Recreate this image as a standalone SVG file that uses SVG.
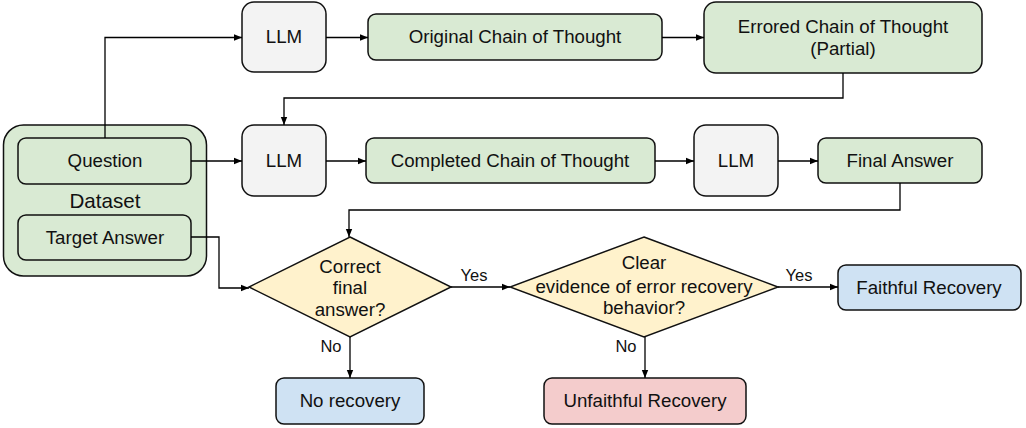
<svg xmlns="http://www.w3.org/2000/svg" width="1026" height="428" viewBox="0 0 1026 428">
<style>
text{font-family:"Liberation Sans",Arial,sans-serif;font-size:18.7px;fill:#111;text-anchor:middle}
.lbl{font-size:16.5px}
.big{font-size:20.6px}
.box{stroke:#111;stroke-width:1.5}
.g{fill:#d9ead3}.gr{fill:#f3f3f3}.y{fill:#fff2cc}.b{fill:#cfe2f3}.r{fill:#f4cccc}
.c{fill:none;stroke:#000;stroke-width:1.3}
</style>
<defs>
<marker id="ah" viewBox="0 0 10 10" refX="10" refY="5" markerWidth="8" markerHeight="8" markerUnits="userSpaceOnUse" orient="auto">
<path d="M0,1 L10,5 L0,9 z" fill="#000"/>
</marker>
</defs>
<rect width="1026" height="428" fill="#fff"/>
<g id="dataset"><rect class="box g" x="3.5" y="125" width="203" height="151" rx="20"/><text class="big" x="105" y="208">Dataset</text></g>
<g id="question"><rect class="box g" x="18" y="138" width="173" height="46" rx="8"/><text x="105" y="167">Question</text></g>
<g id="target"><rect class="box g" x="18" y="215" width="173" height="45" rx="8"/><text x="105" y="244">Target Answer</text></g>
<g id="llm1"><rect class="box gr" x="242" y="2" width="84" height="70" rx="12"/><text x="284" y="43">LLM</text></g>
<g id="ocot"><rect class="box g" x="368" y="14" width="294" height="46" rx="8"/><text x="515" y="43">Original Chain of Thought</text></g>
<g id="ecot"><rect class="box g" x="704" y="2" width="278" height="71" rx="12"/><text x="843" y="33">Errored Chain of Thought</text><text x="843" y="55">(Partial)</text></g>
<g id="llm2"><rect class="box gr" x="242" y="125" width="84" height="71" rx="12"/><text x="284" y="167">LLM</text></g>
<g id="ccot"><rect class="box g" x="366" y="138" width="289" height="45" rx="8"/><text x="510" y="167">Completed Chain of Thought</text></g>
<g id="llm3"><rect class="box gr" x="694" y="125" width="84" height="71" rx="12"/><text x="736" y="167">LLM</text></g>
<g id="final"><rect class="box g" x="818" y="138" width="164" height="45" rx="8"/><text x="900" y="167">Final Answer</text></g>
<g id="d1"><polygon class="box y" points="350,237 451,287 350,337 249,287"/><text x="350" y="273">Correct</text><text x="350" y="294">final</text><text x="350" y="316">answer?</text></g>
<g id="d2"><polygon class="box y" points="644,237 778,287 644,337 510,287"/><text x="644" y="269">Clear</text><text x="644" y="293">evidence of error recovery</text><text x="644" y="314">behavior?</text></g>
<g id="faithful"><rect class="box b" x="838" y="265" width="183" height="45" rx="8"/><text x="929" y="294">Faithful Recovery</text></g>
<g id="norec"><rect class="box b" x="276" y="378" width="148" height="46" rx="8"/><text x="350" y="407">No recovery</text></g>
<g id="unfaithful"><rect class="box r" x="544" y="378" width="202" height="46" rx="8"/><text x="645" y="407">Unfaithful Recovery</text></g>
<g id="connectors">
<path class="c" d="M105,138 V37.5 H242" marker-end="url(#ah)"/>
<path class="c" d="M191,161 H242" marker-end="url(#ah)"/>
<path class="c" d="M326,37.5 H368" marker-end="url(#ah)"/>
<path class="c" d="M662,37.5 H704" marker-end="url(#ah)"/>
<path class="c" d="M843,73 V98 H284 V125" marker-end="url(#ah)"/>
<path class="c" d="M326,161 H366" marker-end="url(#ah)"/>
<path class="c" d="M655,161 H694" marker-end="url(#ah)"/>
<path class="c" d="M778,161 H818" marker-end="url(#ah)"/>
<path class="c" d="M900,183 V210 H349 V237" marker-end="url(#ah)"/>
<path class="c" d="M191,237 H219 V288 H249" marker-end="url(#ah)"/>
<path class="c" d="M451,287 H510" marker-end="url(#ah)"/>
<path class="c" d="M778,287 H838" marker-end="url(#ah)"/>
<path class="c" d="M350,337 V378" marker-end="url(#ah)"/>
<path class="c" d="M645,337 V378" marker-end="url(#ah)"/>
<text class="lbl" x="474" y="281">Yes</text>
<text class="lbl" x="799" y="281">Yes</text>
<text class="lbl" x="331" y="352">No</text>
<text class="lbl" x="626" y="352">No</text>
</g>
</svg>
